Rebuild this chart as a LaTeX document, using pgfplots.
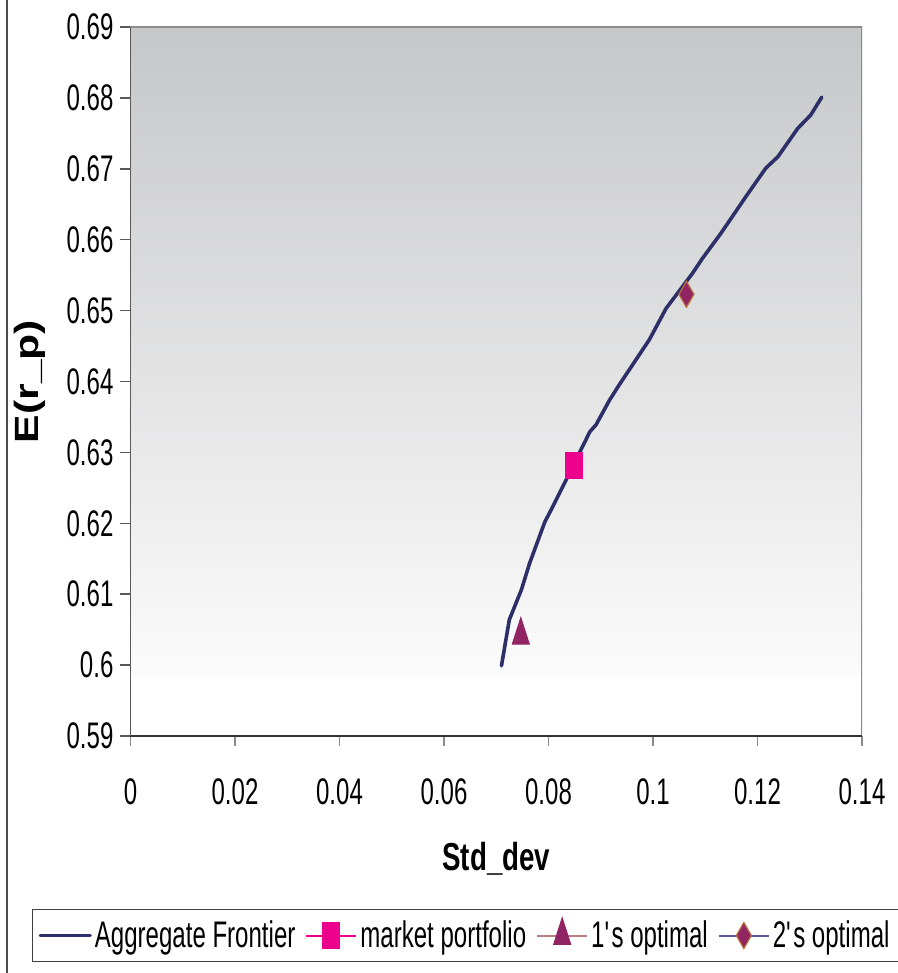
\documentclass[border=0pt]{standalone}
\usepackage{pgfplots}
\pgfplotsset{compat=1.18}
\usepackage{fontspec}
\setmainfont{Liberation Sans}[FakeStretch=0.65]
\newfontfamily\xlabfont{Liberation Sans}[FakeStretch=0.71]
\newfontfamily\ylabfont{Liberation Sans}[FakeStretch=1.27]
\definecolor{navy}{RGB}{45,47,105}
\definecolor{mag}{RGB}{236,0,140}
\definecolor{maroon}{RGB}{145,36,98}
\definecolor{dedge}{RGB}{184,110,60}
\definecolor{rosyline}{RGB}{185,130,130}
\definecolor{blueline}{RGB}{90,90,160}
\definecolor{bgtop}{RGB}{198,199,201}
\definecolor{bgbot}{RGB}{251,251,251}
\pgfplotsset{
  mklegend/.style={legend image code/.code={\draw[#1, line width=1pt] (0pt,0pt) -- (25pt,0pt); \draw[##1] plot coordinates {(12.5pt,0pt)};}},
  lnlegend/.style={legend image code/.code={\draw[#1, line width=1.7pt] (0pt,0pt) -- (25pt,0pt);}},
}
\begin{document}
\begin{tikzpicture}
\path[use as bounding box] (-65.25pt,-118.5pt) rectangle (383.75pt,368pt);
\draw[black!70, line width=1pt] (-61.75pt,-118.5pt) -- (-61.75pt,368pt);
\begin{axis}[
  at={(0pt,0pt)}, anchor=south west,
  scale only axis, width=365.75pt, height=354.5pt,
  xmin=0, xmax=0.14, ymin=0.59, ymax=0.69,
  axis on top,
  axis x line*=bottom, axis y line*=left,
  x axis line style={black!80, line width=0.75pt},
  y axis line style={black!65, line width=0.75pt},
  xtick={0,0.02,0.04,0.06,0.08,0.1,0.12,0.14},
  xticklabels={0,0.02,0.04,0.06,0.08,0.1,0.12,0.14},
  ytick={0.59,0.6,0.61,0.62,0.63,0.64,0.65,0.66,0.67,0.68,0.69},
  yticklabels={0.59,0.6,0.61,0.62,0.63,0.64,0.65,0.66,0.67,0.68,0.69},
  tick align=outside, major tick length=5pt,
  xtick style={black!45, line width=0.75pt},
  ytick style={black!65, line width=0.75pt},
  tick label style={font=\fontsize{18.5}{22}\selectfont},
  xticklabel style={anchor=base, yshift=-29pt},
  every axis x label/.style={at={(axis description cs:0.5,0)}, anchor=base, yshift=-67pt},
  every axis y label/.style={at={(axis description cs:-0.137,0.5)}, anchor=center, rotate=90},
  xlabel={\xlabfont\bfseries\fontsize{19.5}{22}\selectfont Std\_dev},
  ylabel={\ylabfont\bfseries\fontsize{16.8}{20}\selectfont E(r\_p)},
  legend columns=4,
  legend style={at={(0.458,-0.2814)}, anchor=center, draw=black!75, line width=0.75pt,
    font=\fontsize{18.5}{22}\selectfont, inner xsep=3pt, inner ysep=4pt,
    nodes={inner sep=1.5pt},
    /tikz/every even column/.append style={column sep=3.5pt}},
]
\fill[top color=bgtop, bottom color=bgbot] (axis cs:0,0.5985) rectangle (axis cs:0.14,0.69);
\draw[black!45, line width=0.75pt] (axis cs:0,0.69) -- (axis cs:0.14,0.69) -- (axis cs:0.14,0.59);
\addplot[navy, line width=1.8pt, no marks, line join=round, line cap=round, lnlegend=navy]
coordinates {
(0.0710,0.5999) (0.0725,0.6064) (0.0748,0.6106) (0.0764,0.6144) (0.0780,0.6176)
(0.0793,0.6202) (0.0805,0.6219) (0.0835,0.6263) (0.0859,0.6299) (0.0879,0.6329)
(0.0891,0.6339) (0.0917,0.6374) (0.0936,0.6396) (0.0993,0.6459) (0.1025,0.6503)
(0.1076,0.6553) (0.1095,0.6574) (0.1130,0.6609) (0.1178,0.6661) (0.1216,0.6701)
(0.1239,0.6717) (0.1277,0.6757) (0.1302,0.6776) (0.1323,0.6801)
};
\addlegendentry{Aggregate Frontier}
\addplot[only marks, mark=square*, mark size=6.5pt, mark options={xscale=0.65, fill=mag, draw=mag, line width=0.5pt}, mklegend=mag]
coordinates {(0.0848,0.6282)};
\addlegendentry{market portfolio}
\addplot[only marks, mark=triangle*, mark size=4.9pt, mark options={yscale=1.8, fill=maroon, draw=maroon, line width=0.5pt}, mklegend=rosyline]
coordinates {(0.0747,0.6042)};
\addlegendentry{1\textquotesingle s optimal}
\addplot[only marks, mark=diamond*, mark size=6.5pt, mark options={xscale=0.77, fill=maroon, draw=dedge, line width=0.6pt}, mklegend=blueline]
coordinates {(0.1064,0.6523)};
\addlegendentry{2\textquotesingle s optimal}
\end{axis}
\end{tikzpicture}
\end{document}
